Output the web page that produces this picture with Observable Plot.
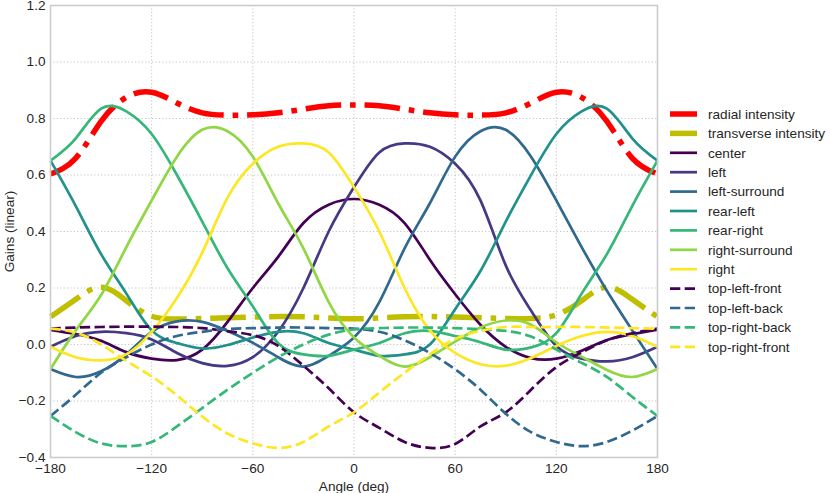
<!DOCTYPE html>
<html><head><meta charset="utf-8">
<script src="https://cdn.jsdelivr.net/npm/d3@7"></script>
<script src="https://cdn.jsdelivr.net/npm/@observablehq/plot@0.6"></script>
<style>
body{margin:0;background:#fff;}
#wrap{position:relative;width:831px;height:493px;font-family:"Liberation Sans",Arial,sans-serif;}
#legend{position:absolute;left:0;top:0;}
</style></head><body><div id="wrap"></div>
<script>
// ---- data ----
const angles = [-180,-165,-150,-135,-120,-105,-90,-75,-60,-45,-30,-15,0,15,30,45,60,75,90,105,120,135,150,165,180];
const radialIntensity     = [0.604,0.66,0.79,0.875,0.893,0.855,0.82,0.812,0.813,0.82,0.833,0.845,0.848,0.845,0.833,0.82,0.813,0.812,0.82,0.855,0.893,0.875,0.79,0.66,0.604];
const transverseIntensity = [0.098,0.16,0.203,0.155,0.1,0.09,0.092,0.095,0.097,0.099,0.098,0.094,0.091,0.094,0.098,0.099,0.097,0.095,0.092,0.092,0.105,0.155,0.203,0.16,0.098];
const center        = [0.052,0.037,0.013,-0.027,-0.05,-0.055,-0.018,0.08,0.2,0.31,0.43,0.495,0.515,0.495,0.43,0.30,0.178,0.07,-0.008,-0.048,-0.05,-0.022,0.016,0.037,0.052];
const left          = [-0.008,0.03,0.045,0.04,0.018,-0.03,-0.066,-0.076,-0.045,0.045,0.20,0.40,0.557,0.68,0.712,0.70,0.64,0.51,0.28,0.12,-0.005,-0.05,-0.06,-0.045,-0.008];
const right         = [-0.008,-0.045,-0.056,-0.035,0.045,0.165,0.325,0.52,0.64,0.70,0.712,0.68,0.557,0.40,0.20,0.05,-0.03,-0.07,-0.075,-0.048,-0.005,0.03,0.045,0.03,-0.008];
const leftSurround  = [-0.087,-0.115,-0.095,-0.035,0.045,0.082,0.08,0.048,0.006,-0.045,-0.078,-0.04,0.025,0.15,0.34,0.50,0.665,0.755,0.76,0.665,0.51,0.345,0.19,0.05,-0.087];
const rightSurround = [-0.087,0.05,0.175,0.345,0.51,0.665,0.76,0.755,0.665,0.50,0.34,0.15,0.025,-0.04,-0.078,-0.045,0.01,0.06,0.085,0.07,0.008,-0.043,-0.09,-0.115,-0.087];
const rearLeft      = [0.651,0.49,0.32,0.18,0.05,0.005,-0.014,-0.002,0.025,0.045,0.04,0.005,-0.018,-0.04,-0.035,0.0,0.125,0.26,0.435,0.60,0.745,0.825,0.835,0.73,0.651];
const rearRight     = [0.651,0.73,0.835,0.825,0.745,0.60,0.435,0.27,0.135,0.005,-0.035,-0.04,-0.018,0.005,0.04,0.048,0.03,0.008,-0.018,-0.01,0.04,0.18,0.32,0.49,0.651];
const topLeftFront  = [0.056,0.06,0.062,0.063,0.063,0.062,0.058,0.047,0.033,-0.005,-0.075,-0.155,-0.24,-0.295,-0.345,-0.366,-0.352,-0.29,-0.24,-0.16,-0.08,-0.028,0.015,0.04,0.056];
const topLeftBack   = [-0.253,-0.178,-0.1,-0.045,0.0,0.03,0.045,0.055,0.058,0.06,0.06,0.058,0.056,0.045,0.015,-0.03,-0.088,-0.16,-0.245,-0.31,-0.345,-0.36,-0.345,-0.305,-0.253];
const topRightBack  = [-0.253,-0.31,-0.35,-0.36,-0.345,-0.29,-0.225,-0.16,-0.1,-0.045,0.0,0.035,0.053,0.058,0.06,0.06,0.058,0.054,0.048,0.028,-0.018,-0.065,-0.115,-0.185,-0.253];
const topRightFront = [0.056,0.042,0.0,-0.058,-0.113,-0.18,-0.255,-0.315,-0.35,-0.366,-0.345,-0.29,-0.24,-0.17,-0.1,-0.035,0.02,0.048,0.062,0.062,0.062,0.062,0.06,0.058,0.056];

const seriesNames = ["radial intensity","transverse intensity","center","left","left-surround","rear-left","rear-right","right-surround","right","top-left-front","top-left-back","top-right-back","top-right-front"];
const seriesValues = [radialIntensity,transverseIntensity,center,left,leftSurround,rearLeft,rearRight,rightSurround,right,topLeftFront,topLeftBack,topRightBack,topRightFront];

const xTicks = [-180,-120,-60,0,60,120,180];
const xTickLabels = ["\u2212180","\u2212120","\u221260","0","60","120","180"];
const yTicks = [-0.4,-0.2,0,0.2,0.4,0.6,0.8,1.0,1.2];
const yTickLabels = ["\u22120.4","\u22120.2","0.0","0.2","0.4","0.6","0.8","1.0","1.2"];

// ---- styles ----
const DASHDOT = "35.6,8.9,5.6,8.9", DASHED = "10.3,4.4";
const styles = [
  {color:"#ff0000", width:5.5, dash:DASHDOT},
  {color:"#bfbf00", width:5.5, dash:DASHDOT},
  {color:"#440154", width:2.7, dash:null},
  {color:"#443983", width:2.7, dash:null},
  {color:"#31688e", width:2.7, dash:null},
  {color:"#21918c", width:2.7, dash:null},
  {color:"#35b779", width:2.7, dash:null},
  {color:"#90d743", width:2.7, dash:null},
  {color:"#fde725", width:2.7, dash:null},
  {color:"#440154", width:2.7, dash:DASHED},
  {color:"#31688e", width:2.7, dash:DASHED},
  {color:"#35b779", width:2.7, dash:DASHED},
  {color:"#fde725", width:2.7, dash:DASHED}
];

const tables = seriesNames.map((name,i)=>angles.map((a,j)=>({name, angle:a, gain:seriesValues[i][j]})));

const W=831,H=493, ML=50, MR=174, MT=5, MB=36;
const plot = Plot.plot({
  width:W, height:H, marginLeft:ML, marginRight:MR, marginTop:MT, marginBottom:MB,
  style:{fontFamily:"'Liberation Sans', Arial, sans-serif", fontSize:"13.6px", color:"#262626", background:"white", overflow:"visible"},
  x:{domain:[-180,180], axis:null},
  y:{domain:[-0.4,1.2], axis:null},
  marks:[
    Plot.gridX(xTicks,{stroke:"#bdbdbd", strokeOpacity:1, strokeWidth:0.9, strokeDasharray:"1.2,2.2"}),
    Plot.gridY(yTicks,{stroke:"#bdbdbd", strokeOpacity:1, strokeWidth:0.9, strokeDasharray:"1.2,2.2"}),
    ...tables.map((t,i)=>Plot.line(t,{x:"angle", y:"gain", stroke:styles[i].color, strokeWidth:styles[i].width,
        strokeDasharray:styles[i].dash, strokeLinecap:"butt", strokeLinejoin:"round", curve:"natural"})),
    Plot.frame({stroke:"#cccccc", strokeWidth:1.6}),
    Plot.axisX(xTicks,{tickSize:0, tickPadding:6, tickFormat:(d)=>xTickLabels[xTicks.indexOf(d)], label:"Angle (deg)", labelAnchor:"center", labelArrow:"none", labelOffset:33, fontSize:13.6, fill:"#262626"}),
    Plot.axisY(yTicks,{tickSize:0, tickPadding:5, tickFormat:(d)=>yTickLabels[yTicks.findIndex(v=>Math.abs(v-d)<1e-9)], label:"Gains (linear)", labelAnchor:"center", labelArrow:"none", labelOffset:46, fontSize:13.6, fill:"#262626"})
  ]
});
const wrap = document.getElementById("wrap");
wrap.appendChild(plot);

// ---- legend ----
const leg = d3.select(wrap).append("svg").attr("id","legend").attr("width",W).attr("height",H)
  .style("pointer-events","none");
const y0 = 114, step = 19.4;
seriesNames.forEach((name,i)=>{
  const y = y0 + i*step;
  leg.append("line").attr("x1",670).attr("x2",697).attr("y1",y).attr("y2",y)
    .attr("stroke",styles[i].color).attr("stroke-width",styles[i].width)
    .attr("stroke-dasharray",styles[i].dash).attr("stroke-linecap","butt");
  leg.append("text").attr("x",708).attr("y",y).attr("dy","0.35em")
    .attr("font-family","'Liberation Sans', Arial, sans-serif").attr("font-size","13.6px")
    .attr("fill","#262626").text(name);
});
</script></body></html>
